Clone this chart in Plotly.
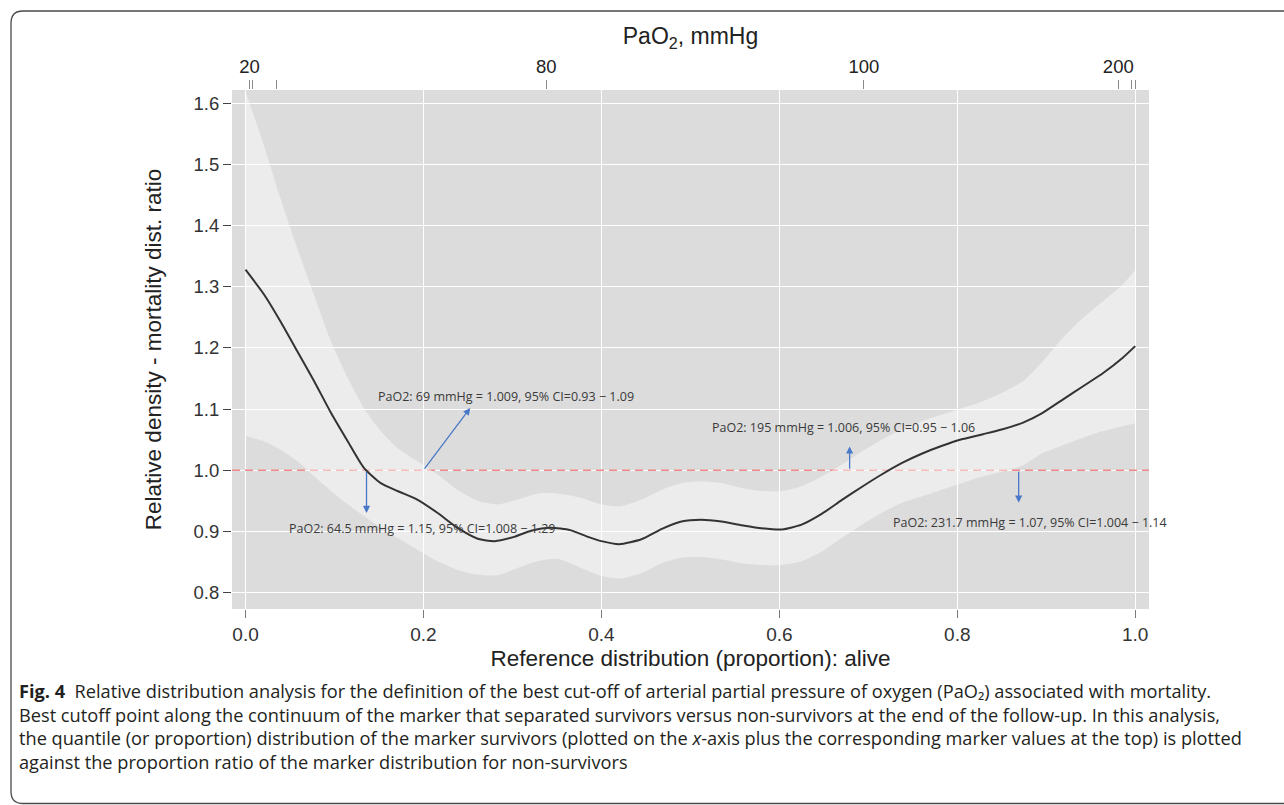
import plotly.graph_objects as go

# ---------------- data ----------------
prop_x = [0.000, 0.021, 0.039, 0.058, 0.077, 0.096, 0.115, 0.133, 0.152, 0.171,
          0.193, 0.216, 0.238, 0.261, 0.280, 0.302, 0.321, 0.343, 0.365, 0.385,
          0.400, 0.420, 0.445, 0.468, 0.490, 0.512, 0.535, 0.558, 0.580, 0.603,
          0.625, 0.648, 0.670, 0.693, 0.715, 0.738, 0.760, 0.783, 0.806, 0.829,
          0.851, 0.874, 0.896, 0.919, 0.941, 0.964, 0.986, 1.000]
rel_density = [1.328, 1.287, 1.244, 1.195, 1.146, 1.094, 1.047, 1.004, 0.979, 0.966,
               0.952, 0.930, 0.906, 0.888, 0.884, 0.891, 0.901, 0.906, 0.902, 0.891,
               0.884, 0.879, 0.887, 0.904, 0.916, 0.919, 0.916, 0.910, 0.905, 0.903,
               0.911, 0.929, 0.951, 0.973, 0.993, 1.012, 1.027, 1.040, 1.051, 1.059,
               1.067, 1.078, 1.094, 1.116, 1.137, 1.159, 1.184, 1.203]

band_x = [0.000, 0.021, 0.039, 0.058, 0.077, 0.096, 0.115, 0.133, 0.152, 0.171,
          0.193, 0.216, 0.238, 0.261, 0.283, 0.306, 0.328, 0.351, 0.377, 0.400,
          0.422, 0.445, 0.468, 0.490, 0.512, 0.535, 0.558, 0.580, 0.603, 0.625,
          0.648, 0.670, 0.693, 0.715, 0.738, 0.760, 0.783, 0.806, 0.829, 0.851,
          0.874, 0.896, 0.919, 0.941, 0.964, 0.986, 1.000]
band_upper = [1.620, 1.530, 1.446, 1.364, 1.287, 1.211, 1.151, 1.102, 1.064, 1.036,
              1.015, 0.993, 0.968, 0.950, 0.944, 0.952, 0.962, 0.962, 0.955, 0.944,
              0.941, 0.952, 0.968, 0.979, 0.982, 0.979, 0.971, 0.966, 0.966, 0.974,
              0.990, 1.009, 1.031, 1.050, 1.067, 1.080, 1.091, 1.102, 1.113, 1.127,
              1.146, 1.178, 1.217, 1.249, 1.277, 1.304, 1.328]
band_lower = [1.056, 1.047, 1.034, 1.015, 0.990, 0.966, 0.944, 0.925, 0.906, 0.889,
              0.870, 0.851, 0.837, 0.829, 0.828, 0.840, 0.851, 0.855, 0.840, 0.827,
              0.823, 0.832, 0.848, 0.857, 0.858, 0.854, 0.848, 0.845, 0.845, 0.851,
              0.867, 0.889, 0.911, 0.930, 0.947, 0.957, 0.968, 0.979, 0.990, 0.998,
              1.008, 1.028, 1.041, 1.053, 1.064, 1.072, 1.077]

reference_ratio = 1.0

bottom_ticks = [0.0, 0.2, 0.4, 0.6, 0.8, 1.0]
left_ticks = [0.8, 0.9, 1.0, 1.1, 1.2, 1.3, 1.4, 1.5, 1.6]

# top axis: PaO2 marker values (rug ticks at proportions)
top_tick_pos = [0.0045, 0.0075, 0.035, 0.338, 0.695, 0.981, 0.9955, 1.0]
top_tick_text = ["20", "", "", "80", "100", "200", "", ""]

# cut-off annotations
cut_labels = ["PaO2: 64.5 mmHg = 1.15, 95% CI=1.008 \u2212 1.29",
              "PaO2: 69 mmHg = 1.009, 95% CI=0.93 \u2212 1.09",
              "PaO2: 195 mmHg = 1.006, 95% CI=0.95 \u2212 1.06",
              "PaO2: 231.7 mmHg = 1.07, 95% CI=1.004 \u2212 1.14"]
arrow_tail_x = [0.136, 0.200, 0.679, 0.869]
arrow_tail_y = [1.0, 1.0, 1.0, 1.0]
arrow_head_x = [0.136, 0.2526, 0.679, 0.869]
arrow_head_y = [0.930, 1.102, 1.039, 0.947]
label_x = [0.047, 0.1464, 0.522, 0.726]
label_y = [0.904, 1.121, 1.070, 0.914]

caption_lines = [
    "<b>Fig. 4</b>\u00a0\u00a0Relative distribution analysis for the definition of the best cut-off of arterial partial pressure of oxygen (PaO\u2082) associated with mortality.",
    "Best cutoff point along the continuum of the marker that separated survivors versus non-survivors at the end of the follow-up. In this analysis,",
    "the quantile (or proportion) distribution of the marker survivors (plotted on the <i>x</i>-axis plus the corresponding marker values at the top) is plotted",
    "against the proportion ratio of the marker distribution for non-survivors",
]

# ---------------- layout geometry ----------------
W, H = 1284, 805
ML, MR, MT, MB = 232, 135, 90, 196
PW, PH = W - ML - MR, H - MT - MB


def px(xp):
    return (xp - ML) / PW


def py(yp):
    return (H - MB - yp) / PH


AXFONT = "Liberation Sans, Arial, sans-serif"

fig = go.Figure()

# reference line (drawn first so the band lightens it)
fig.add_trace(go.Scatter(
    x=[-0.0152, 1.0155], y=[reference_ratio, reference_ratio], mode="lines",
    line=dict(color="#f08888", width=1.6, dash="8px,5px"),
    hoverinfo="skip", showlegend=False))

# confidence band
fig.add_trace(go.Scatter(
    x=band_x, y=band_lower, mode="lines", line=dict(width=0, shape="spline", smoothing=0.6),
    hoverinfo="skip", showlegend=False))
fig.add_trace(go.Scatter(
    x=band_x, y=band_upper, mode="lines", line=dict(width=0, shape="spline", smoothing=0.6),
    fill="tonexty", fillcolor="rgba(255,255,255,0.45)",
    hoverinfo="skip", showlegend=False))

# relative density curve
fig.add_trace(go.Scatter(
    x=prop_x, y=rel_density, mode="lines",
    line=dict(color="#333333", width=2, shape="spline", smoothing=0.6),
    showlegend=False))

# invisible trace to carry the top axis
fig.add_trace(go.Scatter(
    x=top_tick_pos, y=[None] * len(top_tick_pos), xaxis="x2", yaxis="y",
    mode="markers", hoverinfo="skip", showlegend=False))

annotations = []
for hx, hy, tx, ty in zip(arrow_head_x, arrow_head_y, arrow_tail_x, arrow_tail_y):
    annotations.append(dict(
        x=hx, y=hy, ax=tx, ay=ty, xref="x", yref="y", axref="x", ayref="y",
        text="", showarrow=True, arrowhead=2, arrowsize=1.1, arrowwidth=1.3,
        arrowcolor="#4a78c8", standoff=0, startstandoff=0))
for lx, ly, t in zip(label_x, label_y, cut_labels):
    annotations.append(dict(
        x=lx, y=ly, xref="x", yref="y", text=t, showarrow=False,
        xanchor="left", yanchor="middle",
        font=dict(family="Open Sans, sans-serif", size=12.5, color="#3a3a3a")))

# figure caption (one multi-line block)
annotations.append(dict(
    x=px(17), y=py(677), xref="paper", yref="paper",
    text="<br>".join(caption_lines), showarrow=False, align="left",
    xanchor="left", yanchor="top",
    font=dict(family="Open Sans, sans-serif", size=18.2, color="#231f20")))

# rounded frame of the figure panel (open on the right, beyond the page)
r = 12
x0, y0, y1, x1 = 11, 11, 803.5, 1500
frame_path = (
    f"M {px(x1)},{py(y0)} L {px(x0 + r)},{py(y0)} "
    f"Q {px(x0)},{py(y0)} {px(x0)},{py(y0 + r)} "
    f"L {px(x0)},{py(y1 - r)} "
    f"Q {px(x0)},{py(y1)} {px(x0 + r)},{py(y1)} "
    f"L {px(x1)},{py(y1)}"
)
shapes = [dict(type="path", xref="paper", yref="paper", path=frame_path,
               line=dict(color="#4a4a4a", width=1.3), fillcolor="rgba(0,0,0,0)",
               layer="above")]

fig.update_layout(
    width=W, height=H,
    margin=dict(l=ML, r=MR, t=MT, b=MB, pad=0),
    paper_bgcolor="white", plot_bgcolor="#dcdcdc",
    showlegend=False,
    annotations=annotations, shapes=shapes,
    xaxis=dict(
        range=[-0.0152, 1.0155], tickvals=bottom_ticks, tickformat=".1f",
        showgrid=True, gridcolor="white", gridwidth=1.4, zeroline=False,
        ticks="outside", ticklen=8, tickwidth=1, tickcolor="#7a7a7a",
        tickfont=dict(family=AXFONT, size=19, color="#333333"),
        title=dict(text="Reference distribution (proportion): alive",
                   font=dict(family=AXFONT, size=22.5, color="#222222"), standoff=6),
        showline=False),
    xaxis2=dict(
        range=[-0.0152, 1.0155], overlaying="x", side="top", anchor="y",
        tickvals=top_tick_pos, ticktext=top_tick_text, showgrid=False, zeroline=False,
        ticks="outside", ticklen=9, tickwidth=1.2, tickcolor="#8a8a8a",
        tickfont=dict(family=AXFONT, size=18.5, color="#222222"),
        title=dict(text="PaO<sub>2</sub>, mmHg",
                   font=dict(family=AXFONT, size=23, color="#222222"), standoff=4),
        showline=False),
    yaxis=dict(
        range=[0.773, 1.622], tickvals=left_ticks, tickformat=".1f",
        showgrid=True, gridcolor="white", gridwidth=1.4, zeroline=False,
        ticks="outside", ticklen=8, tickwidth=1, tickcolor="#444444",
        tickfont=dict(family=AXFONT, size=18.5, color="#333333"),
        title=dict(text="Relative density - mortality dist. ratio",
                   font=dict(family=AXFONT, size=22.5, color="#222222"), standoff=25),
        showline=False),
)

fig.write_html("out.html", config={"displayModeBar": False},
               post_script="document.body.style.margin='0';document.body.style.overflow='hidden';")
